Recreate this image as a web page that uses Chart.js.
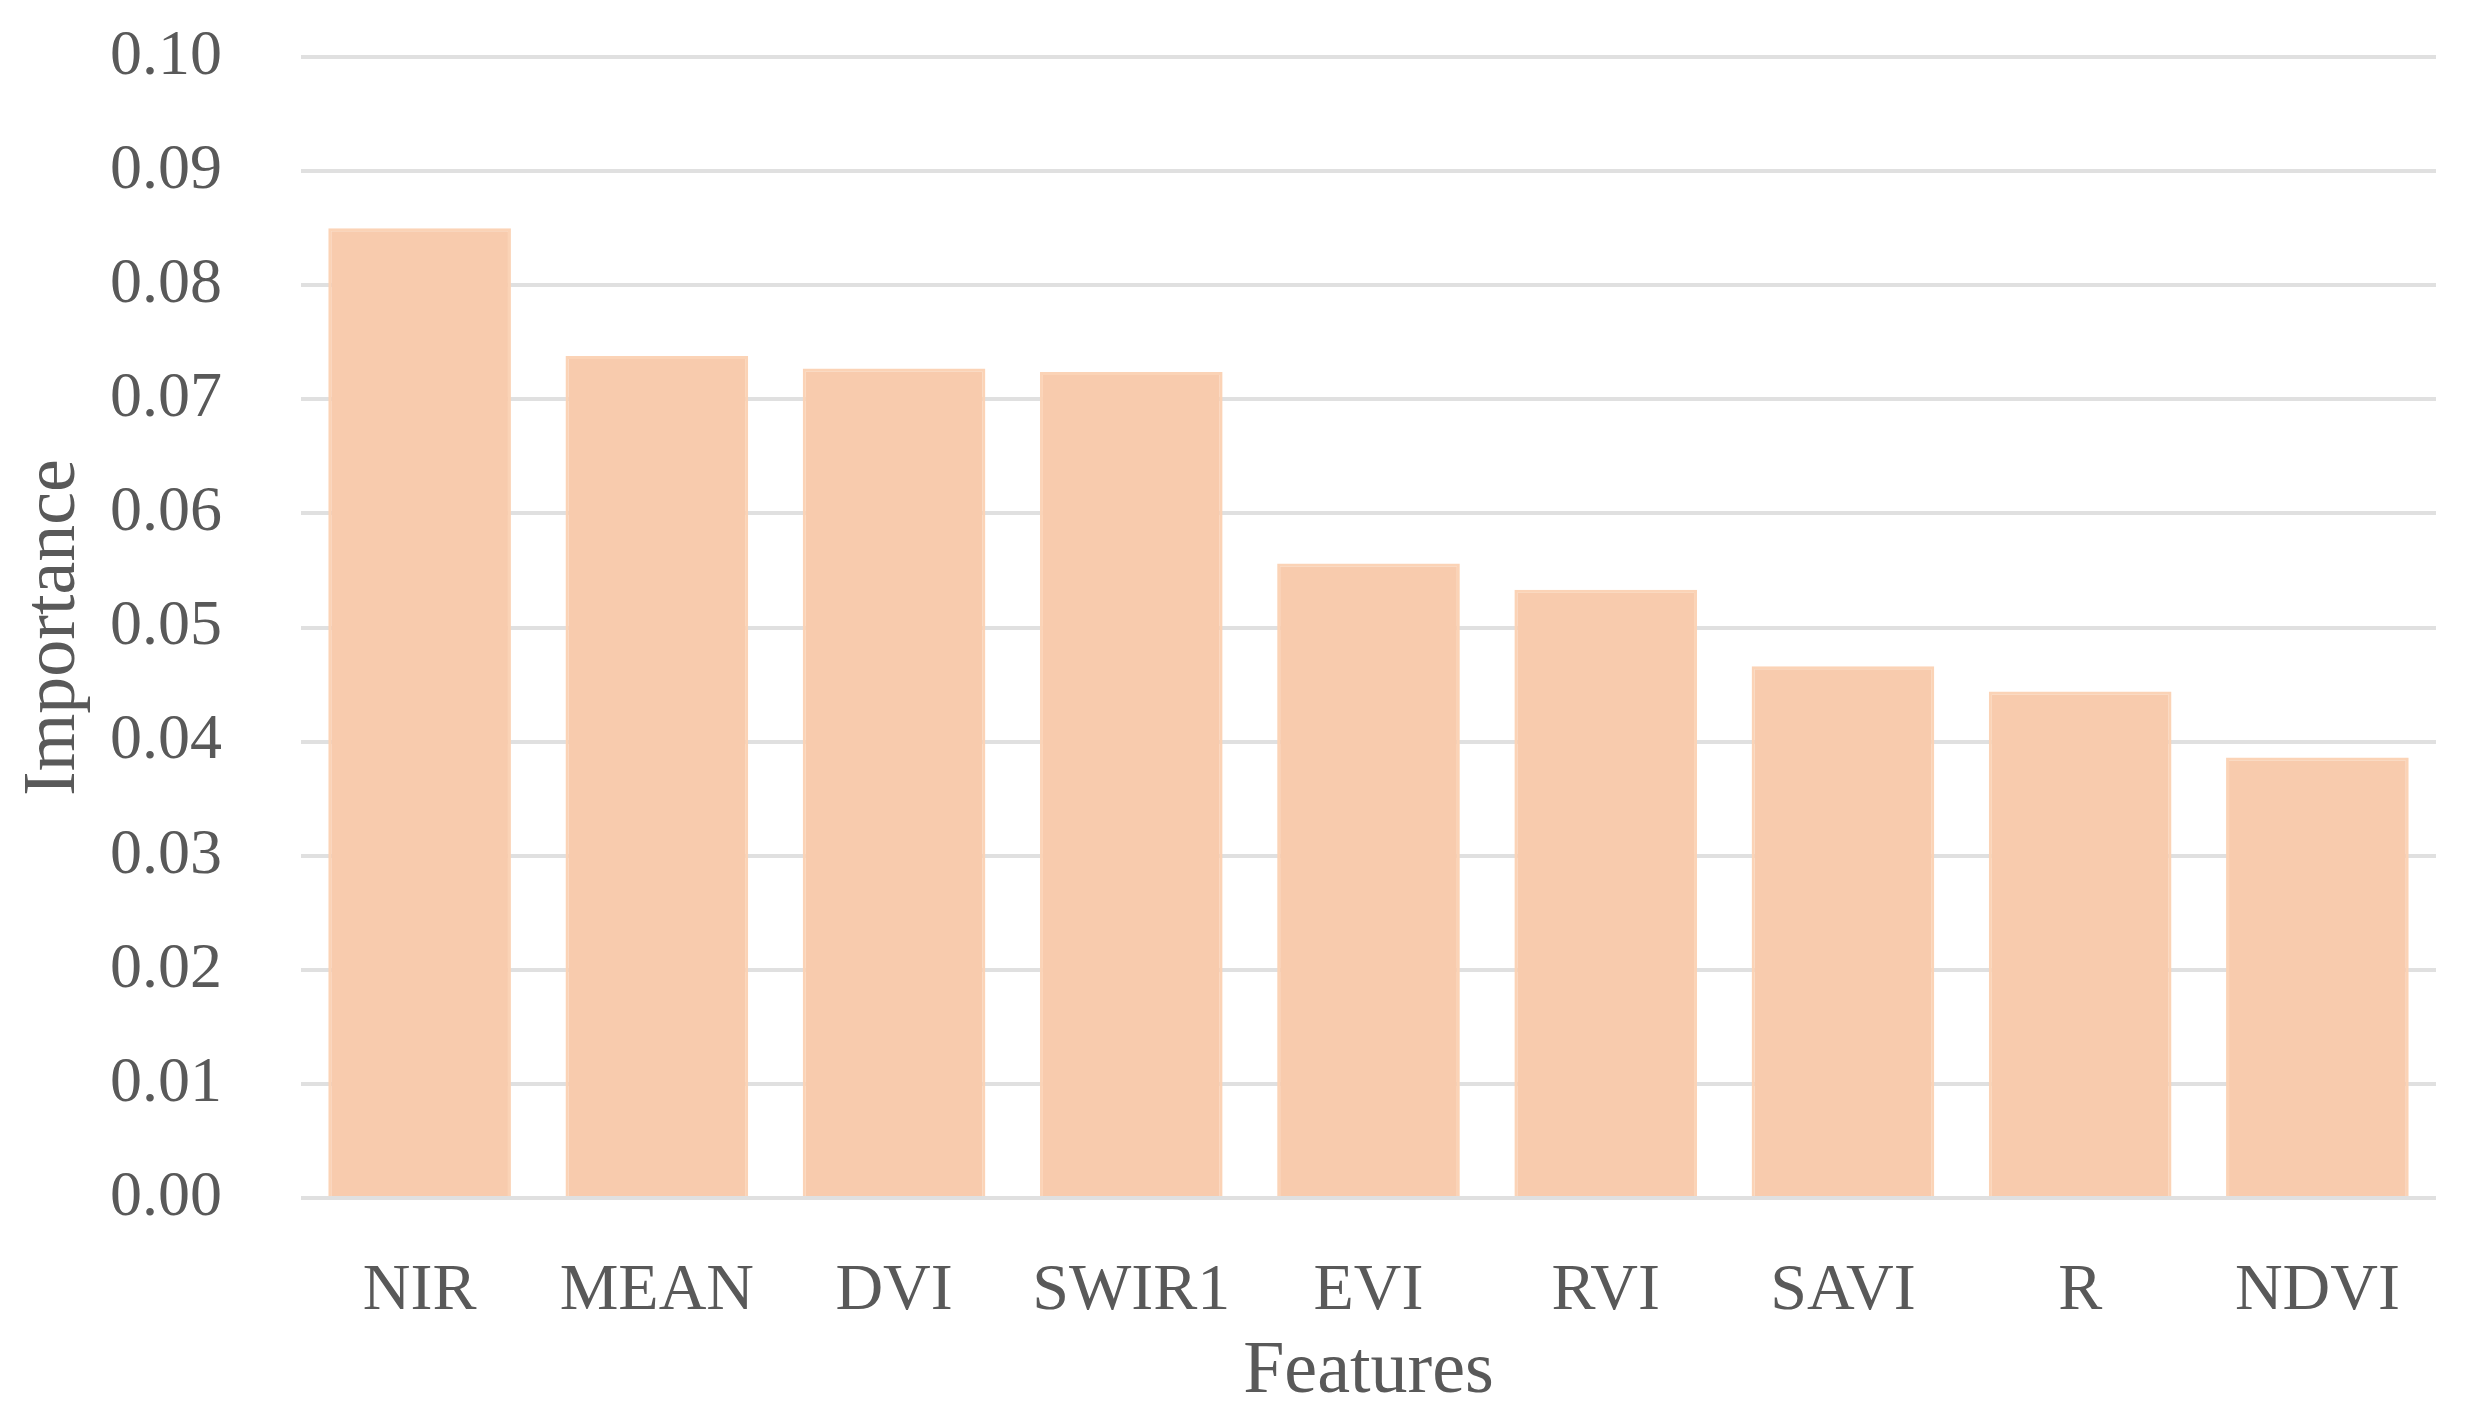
<!DOCTYPE html>
<html>
<head>
<meta charset="utf-8">
<script src="https://cdn.jsdelivr.net/npm/chart.js@4.4.1/dist/chart.umd.min.js"></script>
<style>
    html, body { margin: 0; padding: 0; background: #ffffff; }
    #wrap { width: 2483px; height: 1427px; position: relative; }
</style>
</head>
<body>
<div id="wrap"><canvas id="importanceChart"></canvas></div>
<script>
var features = ["NIR", "MEAN", "DVI", "SWIR1", "EVI", "RVI", "SAVI", "R", "NDVI"];
var importance = [0.0850, 0.0738, 0.0727, 0.0724, 0.0556, 0.0533, 0.0466, 0.0444, 0.0386];
var yTicks = [0.00, 0.01, 0.02, 0.03, 0.04, 0.05, 0.06, 0.07, 0.08, 0.09, 0.10];

var textColor = '#595959';
var serif = "'Liberation Serif', 'DejaVu Serif', serif";

var ctx = document.getElementById('importanceChart').getContext('2d');
var chart = new Chart(ctx, {
    type: 'bar',
    data: {
        labels: features,
        datasets: [{
            label: 'Importance',
            data: importance,
            backgroundColor: '#f8cbad',
            borderColor: '#fbd3b6',
            borderWidth: 3,
            categoryPercentage: 0.77,
            barPercentage: 1.0
        }]
    },
    options: {
        responsive: true,
        maintainAspectRatio: false,
        devicePixelRatio: 1,
        animation: false,
        layout: {
            padding: { top: 57, right: 47, bottom: 0, left: 0 }
        },
        plugins: {
            legend: { display: false },
            tooltip: { enabled: false }
        },
        scales: {
            x: {
                grid: { display: false },
                border: { display: false },
                ticks: {
                    color: textColor,
                    font: { family: serif, size: 66 },
                    padding: 46
                },
                title: {
                    display: true,
                    text: 'Features',
                    color: textColor,
                    font: { family: serif, size: 74 },
                    padding: { top: 0, bottom: 10 }
                },
                afterFit: function (scale) { scale.height = 229; }
            },
            y: {
                min: 0,
                max: 0.10,
                afterBuildTicks: function (scale) {
                    scale.ticks = yTicks.map(function (v) { return { value: v }; });
                },
                grid: {
                    color: '#e0e0e0',
                    lineWidth: 4,
                    drawTicks: true,
                    tickLength: 69,
                    tickColor: 'rgba(0,0,0,0)'
                },
                border: { display: false },
                ticks: {
                    color: textColor,
                    font: { family: serif, size: 64 },
                    padding: 10,
                    callback: function (v) { return Number(v).toFixed(2); }
                },
                title: {
                    display: true,
                    text: 'Importance',
                    color: textColor,
                    font: { family: serif, size: 74 },
                    padding: { top: 10, bottom: 0 }
                },
                afterFit: function (scale) { scale.width = 301; }
            }
        }
    }
});
</script>
</body>
</html>
